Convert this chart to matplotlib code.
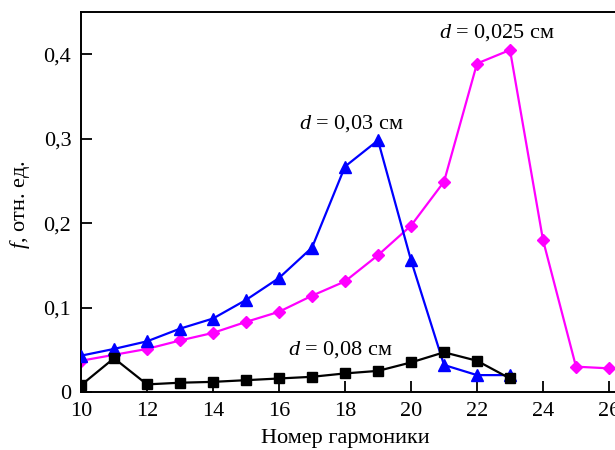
import matplotlib
matplotlib.use("Agg")
import matplotlib.pyplot as plt

plt.rcParams["font.family"] = ["Liberation Serif", "DejaVu Serif"]
plt.rcParams["mathtext.fontset"] = "custom"
plt.rcParams["mathtext.rm"] = "Liberation Serif"
plt.rcParams["mathtext.it"] = "Liberation Serif:italic"

# Harmonic numbers
harm_003 = [10, 11, 12, 13, 14, 15, 16, 17, 18, 19, 20, 21, 22, 23]
harm_0025 = [10, 11, 12, 13, 14, 15, 16, 17, 18, 19, 20, 21, 22, 23, 24, 25, 26]
harm_008 = [10, 11, 12, 13, 14, 15, 16, 17, 18, 19, 20, 21, 22, 23]

# Relative yield f for each plate thickness d
f_003 = [0.043, 0.051, 0.060, 0.075, 0.087, 0.109, 0.135, 0.171, 0.267, 0.298,
         0.156, 0.032, 0.020, 0.020]
f_0025 = [0.037, 0.044, 0.051, 0.061, 0.070, 0.083, 0.095, 0.114, 0.131, 0.162,
          0.197, 0.249, 0.389, 0.405, 0.180, 0.030, 0.028]
f_008 = [0.008, 0.040, 0.009, 0.011, 0.012, 0.014, 0.016, 0.018, 0.022, 0.025,
         0.035, 0.047, 0.037, 0.016]

x_ticks = [10, 12, 14, 16, 18, 20, 22, 24, 26]
x_ticklabels = ["10", "12", "14", "16", "18", "20", "22", "24", "26"]
y_ticks = [0.0, 0.1, 0.2, 0.3, 0.4]
y_ticklabels = ["0", "0,1", "0,2", "0,3", "0,4"]

fs = 16
W, H = 615, 450

fig = plt.figure(figsize=(W / 100, H / 100), dpi=100)
# Axes run past the right edge of the figure, so the frame is open there
ax = fig.add_axes([81 / W, 58 / H, 17 * 33 / W, 380 / H])

lw = 1.6
ax.plot(harm_003, f_003, color="#0000ff", lw=lw, marker="^", ms=8, zorder=3)
ax.plot(harm_0025, f_0025, color="#ff00ff", lw=lw, marker="D", ms=6, zorder=2)
ax.plot(harm_008, f_008, color="black", lw=lw, marker="s", ms=7, zorder=4)

ax.set_xlim(10, 27)
ax.set_ylim(0, 0.45)
ax.set_xticks(x_ticks)
ax.set_xticklabels(x_ticklabels)
ax.set_yticks(y_ticks)
ax.set_yticklabels(y_ticklabels)

for side in ("left", "bottom", "top"):
    ax.spines[side].set_linewidth(1.4)
ax.spines["right"].set_visible(False)
ax.tick_params(direction="in", length=8, width=1.3, labelsize=fs, pad=7)

# Axis titles
fig.text(345 / W, 1 - 429 / H, "Номер гармоники", fontsize=fs,
         ha="center", va="top")
fig.text(20 / W, 1 - 205 / H, "$f$, отн. ед.", fontsize=fs, rotation=90,
         ha="center", va="center")

ax.text(22.6, 0.426, "$d$ = 0,025 см", fontsize=fs, ha="center", va="center")
ax.text(18.2, 0.318, "$d$ = 0,03 см", fontsize=fs, ha="center", va="center")
ax.text(17.85, 0.050, "$d$ = 0,08 см", fontsize=fs, ha="center", va="center")

fig.savefig("out.png", dpi=100)
